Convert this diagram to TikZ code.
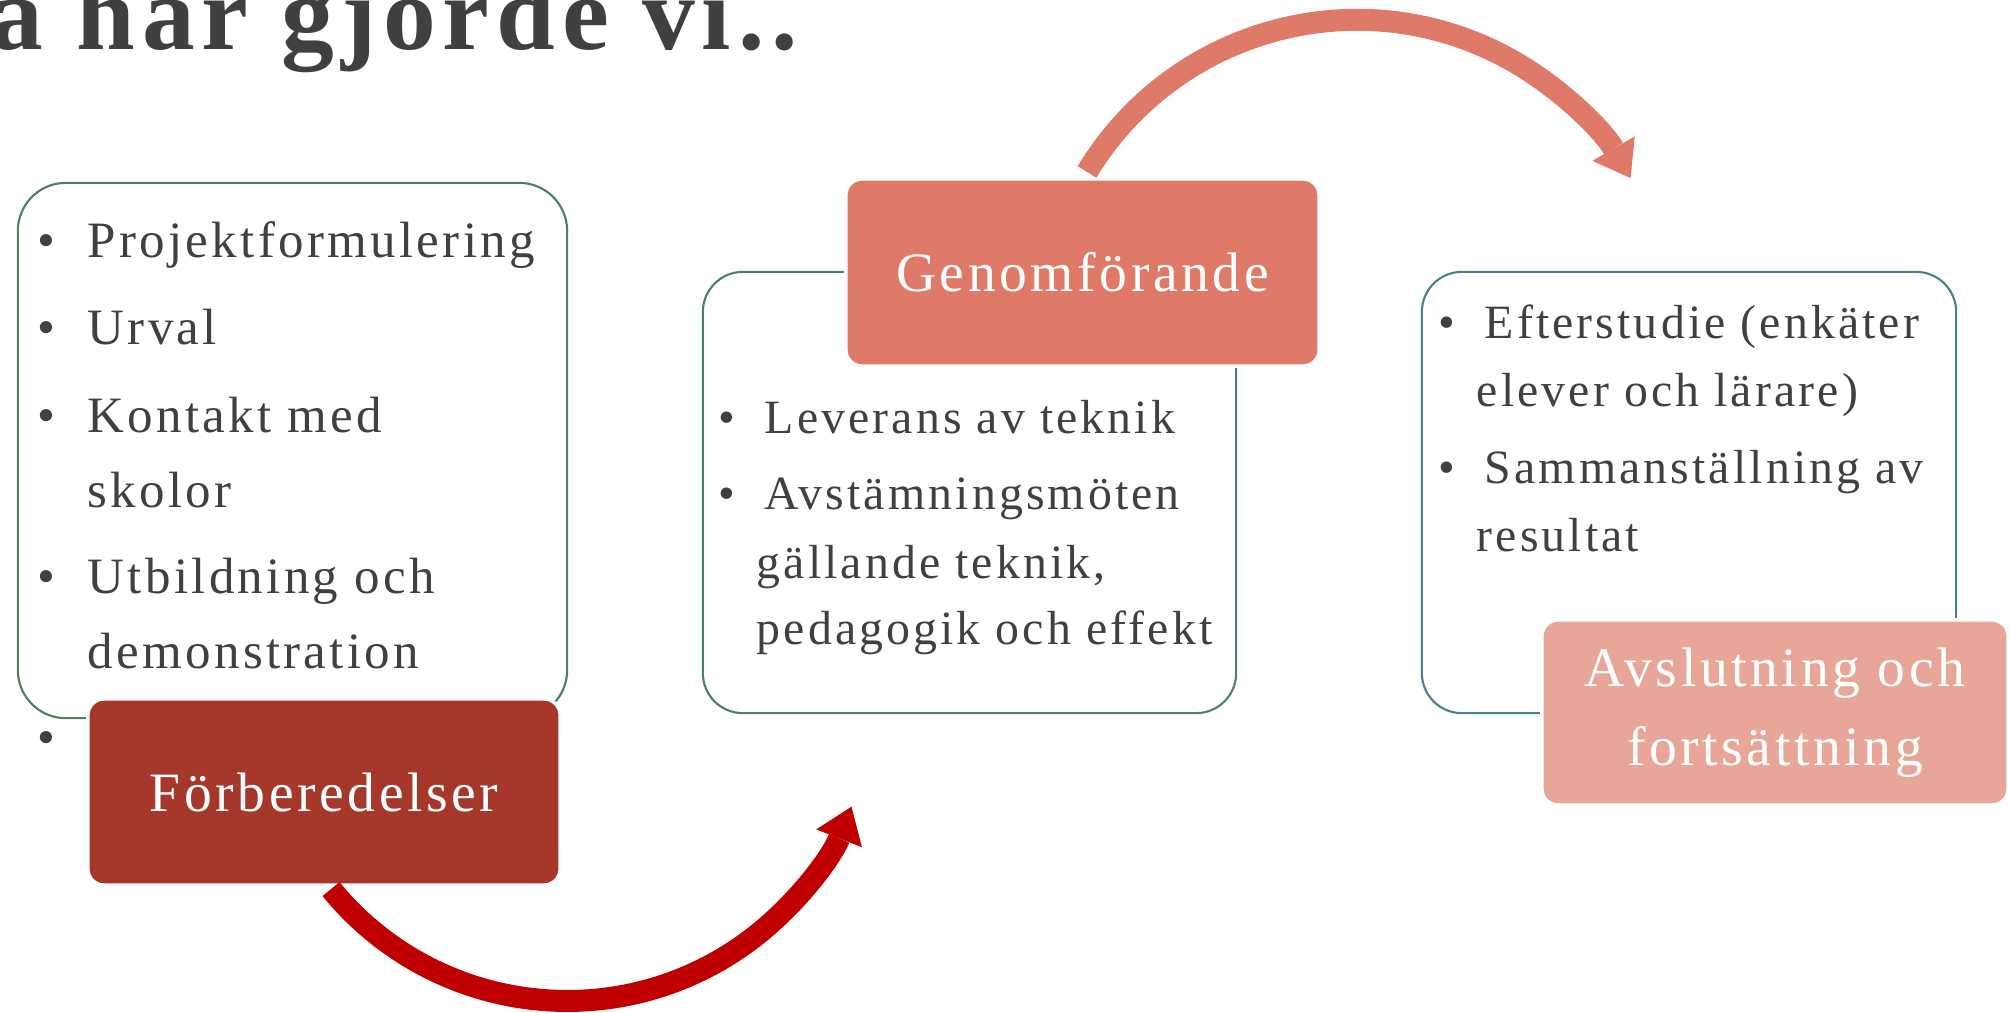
\documentclass[tikz,border=0pt]{standalone}
\usepackage{fontspec}
\setmainfont{Liberation Serif}[LetterSpace=6.5]
\usetikzlibrary{arrows.meta}

\definecolor{textgra}{HTML}{404040}
\definecolor{gron}{HTML}{4E7F5E}
\definecolor{gronbla}{HTML}{4B8070}
\definecolor{bla}{HTML}{4B7F8B}
\definecolor{tegel}{HTML}{A5382A}
\definecolor{laxrod}{HTML}{DF7A68}
\definecolor{rosa}{HTML}{E8A698}
\definecolor{pilrod}{HTML}{C00000}

\begin{document}
\begin{tikzpicture}[x=0.01cm,y=-0.01cm,
    ruta/.style={draw,line width=0.6pt,inner sep=0,outer sep=0},
    fas/.style={draw=white,line width=1pt,rounded corners=0.16cm,inner sep=0,outer sep=0,
        text=white,align=center,font=\fontsize{15.8}{22.4}\selectfont},
    punkt/.style={text=textgra,inner sep=0,anchor=base west,font=\fontsize{14.5}{17}\selectfont},
    punktb/.style={text=textgra,inner sep=0,anchor=base west,font=\fontsize{13.6}{16}\selectfont},
    prick/.style={text=textgra,inner sep=0,anchor=base,font=\fontsize{14.5}{17}\selectfont},
    pil/.style={line width=0.22cm,-{Triangle[length=0.34cm,width=0.49cm,line width=0pt]}}]
    \useasboundingbox (0,0) rectangle (2010,1012);
    \clip (0,0) rectangle (2010,1012);

    % Rubrik
    \node[anchor=base west,inner sep=0,text=textgra,font=\fontsize{30}{36}\selectfont\bfseries] (rubrik) at (-10,49) {å här gjorde vi..};

    % Rutor med punkter
    \node[ruta,draw=gron,rounded corners=0.48cm,minimum width=5.49cm,minimum height=5.35cm] (ruta1) at (292.5,450.5) {};
    \node[ruta,draw=gronbla,rounded corners=0.40cm,minimum width=5.33cm,minimum height=4.41cm] (ruta2) at (969.5,492.5) {};
    \node[ruta,draw=bla,rounded corners=0.40cm,minimum width=5.34cm,minimum height=4.41cm] (ruta3) at (1689,492.5) {};

    % Punkter, ruta 1
    \node[prick] (p1a) at (46,257) {\textbullet};
    \node[prick] (p1b) at (46,344) {\textbullet};
    \node[prick] (p1c) at (46,432) {\textbullet};
    \node[prick] (p1d) at (46,593) {\textbullet};
    \node[prick] (p1e) at (46,754) {\textbullet};
    \node[punkt] (t1a) at (87,257) {Projektformulering};
    \node[punkt] (t1b) at (87,344) {Urval};
    \node[punkt] (t1c) at (87,432) {Kontakt med};
    \node[punkt] (t1d) at (87,507) {skolor};
    \node[punkt] (t1e) at (87,593) {Utbildning och};
    \node[punkt] (t1f) at (87,668) {demonstration};

    % Punkter, ruta 2
    \node[prick,font=\fontsize{13.6}{16}\selectfont] (p2a) at (727,433) {\textbullet};
    \node[prick,font=\fontsize{13.6}{16}\selectfont] (p2b) at (727,509) {\textbullet};
    \node[punktb] (t2a) at (764,433) {Leverans av teknik};
    \node[punktb] (t2b) at (764,509) {Avstämningsmöten};
    \node[punktb] (t2c) at (756,578) {gällande teknik,};
    \node[punktb] (t2d) at (756,644) {pedagogik och effekt};

    % Punkter, ruta 3
    \node[prick,font=\fontsize{13.6}{16}\selectfont] (p3a) at (1447,338) {\textbullet};
    \node[prick,font=\fontsize{13.6}{16}\selectfont] (p3b) at (1447,483) {\textbullet};
    \node[punktb] (t3a) at (1484,338) {Efterstudie (enkäter};
    \node[punktb] (t3b) at (1476,406) {elever och lärare)};
    \node[punktb] (t3c) at (1484,483) {Sammanställning av};
    \node[punktb] (t3d) at (1476,551) {resultat};

    % Faser
    \node[fas,fill=tegel,minimum width=4.72cm,minimum height=1.86cm] (forb) at (324,792) {Förberedelser};
    \node[fas,fill=laxrod,minimum width=4.73cm,minimum height=1.87cm] (genom) at (1082.5,272.5) {Genomförande};
    \node[fas,fill=rosa,minimum width=4.66cm,minimum height=1.85cm] (avsl) at (1775,712.5) {Avslutning och\\fortsättning};

    % Pilar
    \draw[pil,pilrod] ([xshift=2.43cm,yshift=-0.04cm]forb.south west) arc[start angle=-140.7,end angle=-21.3,radius=3.05cm];
    \draw[pil,laxrod] ([xshift=2.41cm,yshift=0.07cm]genom.north west) arc[start angle=148.8,end angle=29.9,radius=3.154cm];
\end{tikzpicture}
\end{document}
